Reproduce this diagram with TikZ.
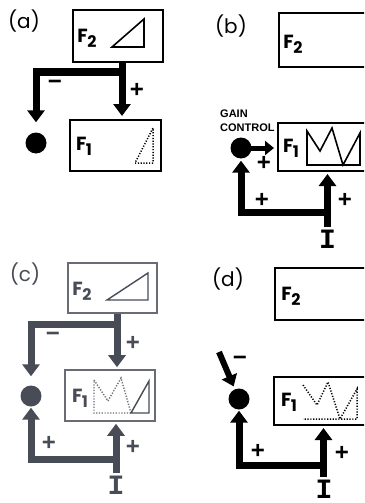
\documentclass[tikz,border=0pt]{standalone}
\usepackage{fontspec}
\usetikzlibrary{arrows.meta,calc}
\newfontfamily\pfont{Poppins}
\newfontfamily\lsfont{Liberation Sans}
\newfontfamily\monofont{Liberation Mono}
\definecolor{cgray}{RGB}{72,76,86}
\definecolor{cbox}{RGB}{105,108,116}
\newcommand{\Flab}[1]{{\pfont\bfseries\fontsize{19}{19}\selectfont F\kern-0.5pt\raisebox{-5pt}{\fontsize{16}{16}\selectfont #1}}}
\tikzset{
  box/.style={draw, line width=2pt, rectangle, inner sep=0pt},
  dot/.style={circle, fill, draw=none, inner sep=0pt, minimum size=21pt},
  flab/.style={inner sep=0pt},
  plab/.style={inner sep=0pt, font=\pfont\fontsize{20}{20}\selectfont},
  sign/.style={inner sep=0pt, font=\lsfont\bfseries\fontsize{24}{24}\selectfont},
  inp/.style={inner sep=0pt, font=\monofont\bfseries\fontsize{28}{28}\selectfont},
  bigarrow/.style={line width=7pt, line join=miter, -{Triangle[width=17pt,length=12pt]}},
  midarrow/.style={line width=5pt, -{Triangle[width=14pt,length=9pt]}},
  shapeline/.style={line width=1.6pt, line join=miter},
  dotline/.style={line width=1.5pt, dash pattern=on 1.2pt off 1.6pt, line join=miter},
}
\begin{document}
\begin{tikzpicture}[x=1pt,y=-1pt]
\clip (0,0) rectangle (364,503);
\fill[white] (0,0) rectangle (364,503);

% ---------------- panel (a)
\node[plab] (la) at (24,21) {(a)};
\node[box, minimum width=90pt, minimum height=52pt] (F2a) at (118,36) {};
\node[flab] (tF2a) at (87,38) {\Flab{2}};
\draw[shapeline] (112,47) -- (144,47) -- (144,19) -- cycle;
\node[box, minimum width=91pt, minimum height=51pt] (F1a) at (115.5,145.5) {};
\node[flab] (tF1a) at (84,146) {\Flab{1}};
\draw[dotline] (135,163) -- (153,163) -- (153,128) -- cycle;
\node[dot] (ca) at (36,143) {};
\coordinate (ja) at (122,72);
\draw[bigarrow, shorten >=3pt] (F2a.south -| ja) -- (F1a.north -| ja);
\draw[bigarrow, shorten >=10pt] ([xshift=3.5pt]ja) -| (ca);
\node[sign] (ma) at (55,85) {−};
\node[sign] (pa) at (137,90) {+};

% ---------------- panel (b)
\node[plab] (lb) at (231,26) {(b)};
\node[box, minimum width=93pt, minimum height=54pt] (F2b) at (325.5,40) {};
\node[flab] (tF2b) at (293,44) {\Flab{2}};
\node[inner sep=0pt, anchor=west, align=left, font=\lsfont\bfseries\fontsize{11}{14}\selectfont] (gc) at (220,120.5) {GAIN\\CONTROL};
\node[box, minimum width=94pt, minimum height=48pt] (F1b) at (325,147) {};
\node[flab] (tF1b) at (291,148) {\Flab{1}};
\draw[shapeline] (307,131) -- (320,151) -- (332,128) -- (343,165) -- (360,133) -- (360,165) -- (307,165) -- cycle;
\node[dot] (cb) at (241,148) {};
\draw[midarrow, shorten >=3pt] (cb.center) -- (cb -| F1b.west);
\node[sign] (pb1) at (264,163) {+};
\node[inp] (Ib) at (327.5,239.5) {I};
\coordinate (jb) at (327.5,212);
\draw[bigarrow, shorten >=2pt, shorten <=3pt] (Ib.north -| jb) -- (F1b.south -| jb);
\draw[bigarrow, shorten >=2pt] ([xshift=3.5pt]jb) -| (cb);
\node[sign] (pb2) at (262,200) {+};
\node[sign] (pb3) at (345,200) {+};

% ---------------- panel (c)
\begin{scope}[color=cgray]
\node[plab, text=cgray] (lc) at (25,274) {(c)};
\node[box, draw=cbox, line width=1.6pt, minimum width=89pt, minimum height=50pt] (F2c) at (112.5,288) {};
\node[flab, text=cgray] (tF2c) at (82,291) {\Flab{2}};
\draw[shapeline, cgray, line width=1.4pt] (107,300) -- (148,300) -- (148,273) -- cycle;
\node[box, draw=cbox, line width=1.6pt, minimum width=90pt, minimum height=51pt] (F1c) at (110,395.5) {};
\node[flab, text=cgray] (tF1c) at (80,398) {\Flab{1}};
\draw[dotline, cbox, line width=1.4pt] (131,413) -- (121,378) -- (108,401) -- (94,380) -- (94,413) -- (131,413);
\draw[shapeline, cgray, line width=1.4pt] (131,413) -- (149,381) -- (149,413) -- cycle;
\node[dot, fill=cgray] (cc) at (31,396) {};
\coordinate (jc) at (117,324);
\draw[bigarrow, cgray, shorten >=2pt] (F2c.south -| jc) -- (F1c.north -| jc);
\draw[bigarrow, cgray, shorten >=9pt] ([xshift=3.5pt]jc) -| (cc);
\node[sign, text=cgray] (mc) at (53,337) {−};
\node[sign, text=cgray] (pc1) at (133,343) {+};
\node[inp, text=cgray] (Ic) at (116,485) {I};
\coordinate (jc2) at (116,459);
\draw[bigarrow, cgray, shorten >=2pt, shorten <=3pt] (Ic.north -| jc2) -- (F1c.south -| jc2);
\draw[bigarrow, cgray, shorten >=1pt] ([xshift=3.5pt]jc2) -| (cc);
\node[sign, text=cgray] (pc2) at (49,443) {+};
\node[sign, text=cgray] (pc3) at (133,447) {+};
\end{scope}

% ---------------- panel (d)
\node[plab] (ld) at (228,279) {(d)};
\node[box, minimum width=97pt, minimum height=52pt] (F2d) at (323.5,294) {};
\node[flab] (tF2d) at (291,296) {\Flab{2}};
\node[box, minimum width=98pt, minimum height=48pt] (F1d) at (323,401) {};
\node[flab] (tF1d) at (289,402) {\Flab{1}};
\draw[dotline] (303,385) -- (317,405) -- (328,382) -- (340,419) -- (357,389) -- (357,419) -- (303,419);
\node[dot] (cd) at (239,399) {};
\coordinate (md) at (219,352);
\draw[line width=6pt, -{Triangle[width=16pt,length=11pt]}, shorten >=3pt] (md) -- (cd);
\node[sign] (mdd) at (240,361) {−};
\node[inp] (Id) at (324,489) {I};
\coordinate (jd) at (323.5,465);
\draw[bigarrow, shorten >=2pt, shorten <=3pt] (Id.north -| jd) -- (F1d.south -| jd);
\draw[bigarrow, shorten >=1pt] ([xshift=3.5pt]jd) -| (cd);
\node[sign] (pd1) at (258,451) {+};
\node[sign] (pd2) at (342,453) {+};
\end{tikzpicture}
\end{document}
